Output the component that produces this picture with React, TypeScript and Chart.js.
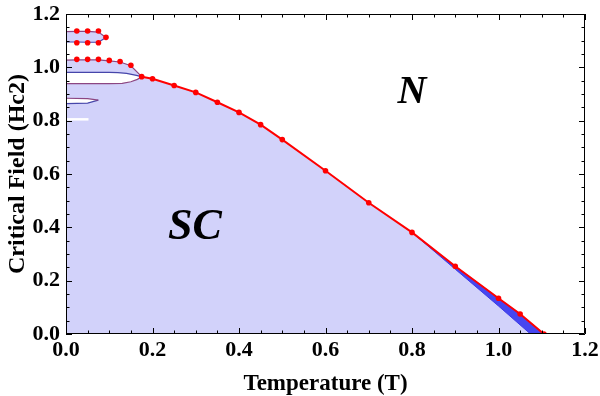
import React, { useEffect, useRef } from 'react';
import { Chart, registerables } from 'chart.js';

Chart.register(...registerables);

// ---- data ----
const tickValues = [0, 0.2, 0.4, 0.6, 0.8, 1.0, 1.2];

// main Hc2(T) boundary (red line with dots)
const mainT = [0.175, 0.2, 0.25, 0.3, 0.35, 0.4, 0.45, 0.5, 0.6, 0.7, 0.8, 0.9, 1.0, 1.05, 1.105];
const mainH = [0.965, 0.957, 0.932, 0.906, 0.869, 0.831, 0.785, 0.729, 0.612, 0.492, 0.381, 0.254, 0.134, 0.075, 0.0];

// upper edge of the band joining the main curve at low T
const bandT = [0, 0.025, 0.05, 0.075, 0.1, 0.125, 0.15, 0.175];
const bandH = [1.027, 1.028, 1.028, 1.028, 1.024, 1.02, 1.006, 0.965];
const bandDotT = [0.025, 0.05, 0.075, 0.1, 0.125, 0.15];
const bandDotH = [1.03, 1.03, 1.03, 1.026, 1.022, 1.008];

// isolated island at the top
const islandT = [0, 0.025, 0.05, 0.075, 0.0925, 0.075, 0.05, 0.025, 0];
const islandH = [1.134, 1.135, 1.135, 1.132, 1.112, 1.094, 1.094, 1.095, 1.095];
const islandDotT = [0.025, 0.05, 0.075, 0.0925, 0.025, 0.05, 0.075];
const islandDotH = [1.136, 1.136, 1.136, 1.1125, 1.092, 1.092, 1.092];

// white (normal) lens inside the SC region
const lensUpT = [0, 0.1, 0.12, 0.14, 0.16, 0.175];
const lensUpH = [0.981, 0.981, 0.98, 0.977, 0.971, 0.965];
const lensLoT = [0.175, 0.165, 0.15, 0.13, 0.1, 0];
const lensLoH = [0.965, 0.955, 0.946, 0.94, 0.939, 0.939];

// small white lens
const smallUpT = [0, 0.05, 0.0747];
const smallUpH = [0.884, 0.883, 0.877];
const smallLoT = [0.0747, 0.05, 0];
const smallLoH = [0.877, 0.866, 0.864];

// short white mark
const markT = [0, 0.052];
const markH = [0.805, 0.805];

// dark blue wedge near Tc
const wedgeLoT = [1.105, 1.074, 1.0, 0.9, 0.8];
const wedgeLoH = [0.0, 0.0, 0.105, 0.243, 0.381];
const wedgeUpT = [0.8, 0.9, 1.0, 1.05, 1.105];
const wedgeUpH = [0.381, 0.254, 0.134, 0.075, 0.0];

// region labels
const labelN = { t: 0.8, h: 0.905, text: 'N' };
const labelSC = { t: 0.298, h: 0.4, text: 'SC' };

const zip = (xs: number[], ys: number[]) => xs.map((x, i) => ({ x, y: ys[i] }));

const SERIF = "'Liberation Serif', 'Times New Roman', serif";
const LAVENDER = 'rgb(210, 210, 250)';
const RED = 'rgb(255, 0, 0)';
const PURPLE = 'rgb(140, 70, 130)';
const EDGEBLUE = 'rgb(70, 70, 170)';

const framePlugin = {
  id: 'frameTicks',
  afterDatasetsDraw(chart: any) {
    const { ctx, chartArea, scales } = chart;
    const { left, right, top, bottom } = chartArea;
    const xs = scales.x;
    const ys = scales.y;
    ctx.save();
    ctx.strokeStyle = '#000';
    ctx.lineWidth = 1;
    ctx.beginPath();
    ctx.rect(left + 0.5, top + 0.5, right - left - 1, bottom - top - 1);
    ctx.stroke();
    ctx.beginPath();
    for (let i = 0; i <= 24; i++) {
      const v = i * 0.05;
      const major = i % 4 === 0;
      const len = major ? 6 : 3.5;
      const px = Math.round(xs.getPixelForValue(v)) + 0.5;
      ctx.moveTo(px, bottom);
      ctx.lineTo(px, bottom - len);
      ctx.moveTo(px, top);
      ctx.lineTo(px, top + len);
      const py = Math.round(ys.getPixelForValue(v)) + 0.5;
      ctx.moveTo(left, py);
      ctx.lineTo(left + len, py);
      ctx.moveTo(right, py);
      ctx.lineTo(right - len, py);
    }
    ctx.stroke();

    ctx.fillStyle = '#000';
    ctx.textAlign = 'center';
    ctx.textBaseline = 'middle';
    ctx.font = `italic bold 40px ${SERIF}`;
    ctx.fillText(labelN.text, xs.getPixelForValue(labelN.t), ys.getPixelForValue(labelN.h));
    ctx.font = `italic bold 44px ${SERIF}`;
    ctx.fillText(labelSC.text, xs.getPixelForValue(labelSC.t), ys.getPixelForValue(labelSC.h));
    ctx.restore();
  },
};

export default function App() {
  const ref = useRef<HTMLCanvasElement | null>(null);

  useEffect(() => {
    if (!ref.current) return;
    const polyMain = [
      ...zip(bandT, bandH),
      ...zip(mainT.slice(1), mainH.slice(1)),
      { x: 0, y: 0 },
    ];
    const lens = [...zip(lensUpT, lensUpH), ...zip(lensLoT.slice(1), lensLoH.slice(1))];
    const small = [...zip(smallUpT, smallUpH), ...zip(smallLoT.slice(1), smallLoH.slice(1))];
    const wedge = [...zip(wedgeLoT, wedgeLoH), ...zip(wedgeUpT.slice(1), wedgeUpH.slice(1))];

    const base = { showLine: true, pointRadius: 0, tension: 0, borderWidth: 0 };

    const chart = new Chart(ref.current, {
      type: 'scatter',
      data: {
        datasets: [
          { ...base, data: polyMain, fill: 'shape', backgroundColor: LAVENDER, borderColor: LAVENDER, order: 20 } as any,
          { ...base, data: wedge, fill: 'shape', backgroundColor: 'rgb(70, 70, 240)', borderColor: 'rgb(60, 60, 230)', borderWidth: 1, order: 19 } as any,
          { ...base, data: lens, fill: 'shape', backgroundColor: '#ffffff', borderColor: 'rgba(0,0,0,0)', order: 18 } as any,
          { ...base, data: zip(lensUpT, lensUpH), fill: false, borderColor: EDGEBLUE, borderWidth: 1.2, order: 17 } as any,
          { ...base, data: zip(lensLoT, lensLoH), fill: false, borderColor: PURPLE, borderWidth: 1.2, order: 17 } as any,
          { ...base, data: small, fill: 'shape', backgroundColor: '#ffffff', borderColor: 'rgba(0,0,0,0)', order: 16 } as any,
          { ...base, data: zip(smallUpT, smallUpH), fill: false, borderColor: PURPLE, borderWidth: 1.2, order: 15 } as any,
          { ...base, data: zip(smallLoT, smallLoH), fill: false, borderColor: EDGEBLUE, borderWidth: 1.2, order: 15 } as any,
          { ...base, data: zip(markT, markH), fill: false, borderColor: '#ffffff', borderWidth: 2.5, order: 14 } as any,
          { ...base, data: zip(islandT, islandH), fill: 'shape', backgroundColor: LAVENDER, borderColor: 'rgba(0,0,0,0)', order: 13 } as any,
          { ...base, data: zip(islandT.slice(0, 5), islandH.slice(0, 5)), fill: false, borderColor: PURPLE, borderWidth: 1.2, order: 12 } as any,
          { ...base, data: zip(islandT.slice(4), islandH.slice(4)), fill: false, borderColor: EDGEBLUE, borderWidth: 1.2, order: 12 } as any,
          { ...base, data: zip(bandT, bandH), fill: false, borderColor: PURPLE, borderWidth: 1.2, order: 11 } as any,
          {
            showLine: true, tension: 0, data: zip(mainT, mainH), fill: false, borderColor: RED, borderWidth: 2,
            pointRadius: 2.8, pointBackgroundColor: RED, pointBorderWidth: 0, order: 5,
          } as any,
          {
            showLine: false, data: zip(bandDotT, bandDotH), pointRadius: 2.8, pointBackgroundColor: RED,
            pointBorderWidth: 0, order: 4,
          } as any,
          {
            showLine: false, data: zip(islandDotT, islandDotH), pointRadius: 2.8, pointBackgroundColor: RED,
            pointBorderWidth: 0, order: 4,
          } as any,
        ],
      },
      options: {
        animation: false,
        responsive: false,
        events: [],
        layout: { padding: { top: 14, right: 15, left: 0, bottom: 0 } },
        plugins: { legend: { display: false }, tooltip: { enabled: false }, title: { display: false } },
        scales: {
          x: {
            type: 'linear', min: 0, max: 1.2,
            afterFit: (s: any) => { s.height = 62; s.paddingLeft = 0; s.paddingRight = 0; },
            afterBuildTicks: (s: any) => { s.ticks = tickValues.map((v) => ({ value: v })); },
            grid: { display: false, drawTicks: false },
            border: { display: false },
            ticks: {
              padding: 3, color: '#000', font: { family: SERIF, size: 22, weight: 'bold' },
              callback: (v: any) => Number(v).toFixed(1), maxRotation: 0, autoSkip: false,
            },
            title: {
              display: true, text: 'Temperature (T)', color: '#000',
              font: { family: SERIF, size: 23, weight: 'bold', lineHeight: 1 }, padding: { top: 0, bottom: 0 },
            },
          },
          y: {
            type: 'linear', min: 0, max: 1.2,
            afterFit: (s: any) => { s.width = 66; s.paddingTop = 0; s.paddingBottom = 0; },
            afterBuildTicks: (s: any) => { s.ticks = tickValues.map((v) => ({ value: v })); },
            grid: { display: false, drawTicks: false },
            border: { display: false },
            ticks: {
              padding: 6, color: '#000', font: { family: SERIF, size: 22, weight: 'bold' },
              callback: (v: any) => Number(v).toFixed(1), autoSkip: false,
            },
            title: {
              display: true, text: 'Critical Field (Hc2)', color: '#000',
              font: { family: SERIF, size: 24, weight: 'bold', lineHeight: 1 }, padding: { top: 6, bottom: 0 },
            },
          },
        },
      } as any,
      plugins: [framePlugin],
    });
    return () => chart.destroy();
  }, []);

  return (
    <div style={{ position: 'absolute', left: 0, top: 0, width: 600, height: 396, background: '#fff' }}>
      <canvas ref={ref} width={600} height={396} style={{ display: 'block', width: 600, height: 396 }} />
    </div>
  );
}
